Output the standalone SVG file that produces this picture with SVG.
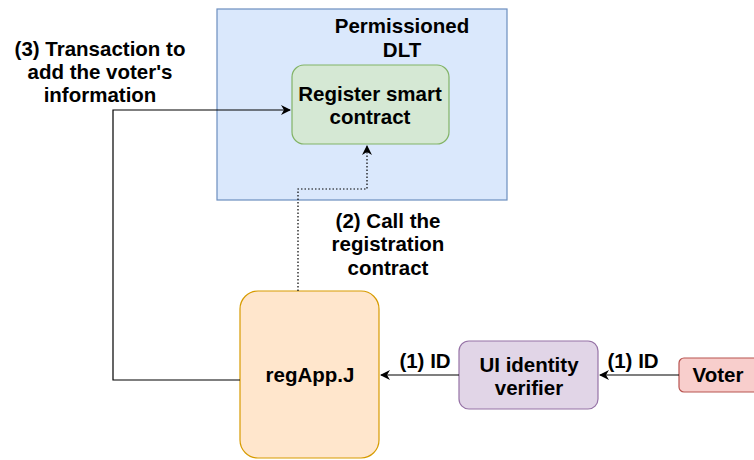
<svg xmlns="http://www.w3.org/2000/svg" width="754" height="460" viewBox="0 0 754 460">
  <style>
    text { font-family: "Liberation Sans", Arial, Helvetica, sans-serif; font-weight: bold; font-size: 20.5px; fill: #000; text-anchor: middle; }
    .edge { fill: none; stroke: #000; stroke-width: 1.2; }
    .dotted { stroke-dasharray: 1.5 2; }
  </style>
  <defs>
    <marker id="arrow" viewBox="0 0 10 10" refX="9" refY="5" markerWidth="10" markerHeight="10" markerUnits="userSpaceOnUse" orient="auto">
      <path d="M0,0 L10,5 L0,10 L3,5 Z" fill="#000"/>
    </marker>
  </defs>
  <rect width="754" height="460" fill="#fff"/>

  <g id="dlt">
    <rect x="217" y="9" width="290" height="191" fill="#dae8fc" stroke="#6c8ebf" stroke-width="1.2"/>
    <text x="402" y="33">Permissioned</text>
    <text x="402" y="57">DLT</text>
  </g>

  <g id="register-contract">
    <rect x="292" y="65" width="157" height="79" rx="12" fill="#d5e8d4" stroke="#82b366" stroke-width="1.2"/>
    <text x="370" y="101">Register smart</text>
    <text x="370" y="124">contract</text>
  </g>

  <g id="regapp">
    <rect x="240" y="291" width="139" height="167" rx="18" fill="#ffe6cc" stroke="#d79b00" stroke-width="1.2"/>
    <text x="310" y="382">regApp.J</text>
  </g>

  <g id="ui-verifier">
    <rect x="459" y="341" width="139" height="68" rx="10" fill="#e1d5e7" stroke="#9673a6" stroke-width="1.2"/>
    <text x="529" y="372">UI identity</text>
    <text x="529" y="395">verifier</text>
  </g>

  <g id="voter">
    <rect x="679" y="358" width="90" height="34" rx="5" fill="#f8cecc" stroke="#b85450" stroke-width="1.2"/>
    <text x="718" y="382">Voter</text>
  </g>

  <g id="connectors">
    <path class="edge" d="M240,380 H113 V110 H290" marker-end="url(#arrow)"/>
    <path class="edge dotted" d="M298,291 V189 H367 V146" marker-end="url(#arrow)"/>
    <path class="edge" d="M459,375 H381" marker-end="url(#arrow)"/>
    <path class="edge" d="M679,375 H600" marker-end="url(#arrow)"/>
  </g>

  <g id="labels">
    <text x="100" y="56">(3) Transaction to</text>
    <text x="100" y="79">add the voter's</text>
    <text x="100" y="102">information</text>
    <text x="388" y="228">(2) Call the</text>
    <text x="388" y="251">registration</text>
    <text x="388" y="275">contract</text>
    <text x="425" y="368">(1) ID</text>
    <text x="633" y="368">(1) ID</text>
  </g>
</svg>
